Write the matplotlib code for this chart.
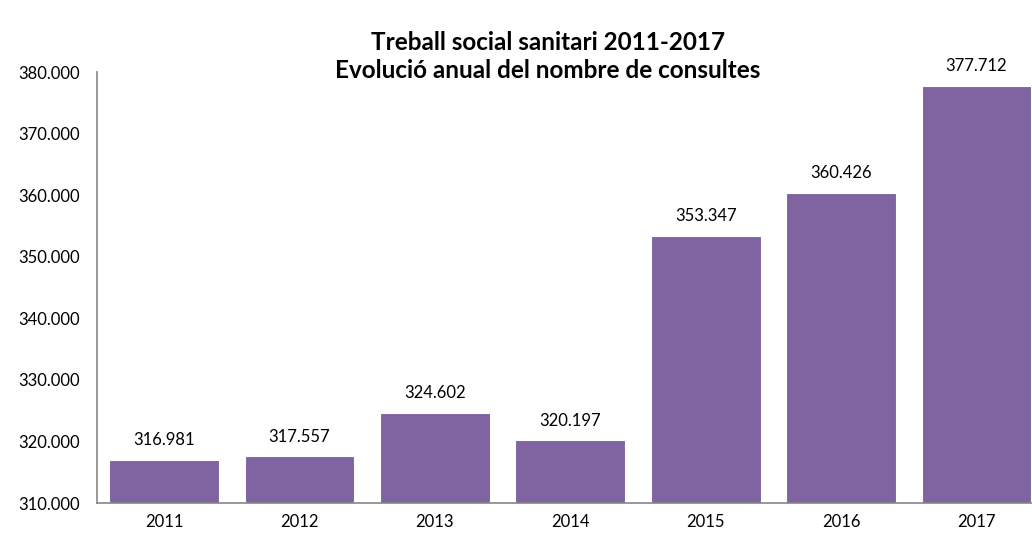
import matplotlib.pyplot as plt
from matplotlib.ticker import FuncFormatter

years = ["2011", "2012", "2013", "2014", "2015", "2016", "2017"]
consultes = [316981, 317557, 324602, 320197, 353347, 360426, 377712]

plt.rcParams['font.family'] = ['Lato', 'DejaVu Sans']

fig = plt.figure(figsize=(10.32, 5.37), dpi=100)
ax = fig.add_axes([97 / 1032, 1 - 503 / 537, 1 - 97 / 1032, (503 - 72) / 537])

x = range(len(years))
ax.bar(x, consultes, width=0.81, color="#8064A2", edgecolor="white", linewidth=0.8)
ax.set_ylim(310000, 380000)
ax.set_xlim(-0.495, len(years) - 0.59)
ax.set_xticks(list(x))
ax.set_xticklabels(years)
ax.set_yticks(range(310000, 380001, 10000))

def dotted(v, pos=None):
    return f"{int(v):,}".replace(",", ".")

ax.yaxis.set_major_formatter(FuncFormatter(dotted))
ax.tick_params(axis="both", length=0, labelsize=12, pad=8)
ax.tick_params(axis="y", pad=12)

for s in ["top", "right"]:
    ax.spines[s].set_visible(False)
for s in ["left", "bottom"]:
    ax.spines[s].set_color("#868686")
    ax.spines[s].set_linewidth(1.2)

for xi, v in zip(x, consultes):
    ax.text(xi, v + 1900, dotted(v), ha="center", va="bottom", fontsize=12, clip_on=False)

fig.text(548 / 1032, 1 - 43 / 537, "Treball social sanitari 2011-2017", ha="center", va="center",
         fontsize=17.5, fontweight="bold")
fig.text(548 / 1032, 1 - 71 / 537, "Evolució anual del nombre de consultes", ha="center", va="center",
         fontsize=17.5, fontweight="bold")

fig.savefig("out.png", dpi=100)
